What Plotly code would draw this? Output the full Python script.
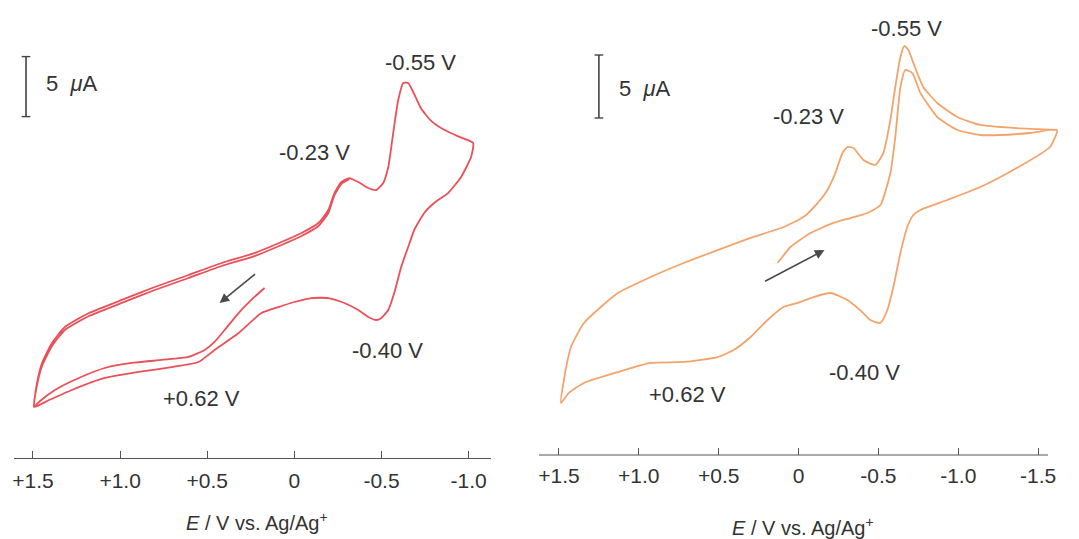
import plotly.graph_objects as go

# ---------------- LEFT PANEL (red) : potential E (V), current I (uA) ----------------
L_start_E = [0.171, 0.229, 0.320, 0.400, 0.458, 0.515, 0.607, 0.761, 0.933, 1.088, 1.237, 1.374, 1.466, 1.494]
L_start_I = [0.17, -0.58, -1.92, -3.33, -4.33, -5.00, -5.58, -5.83, -6.08, -6.50, -7.33, -8.33, -9.33, -9.75]

L_up1_E = [1.494, 1.477, 1.448, 1.391, 1.317, 1.179, 0.990, 0.801, 0.607, 0.418, 0.229, 0.074, -0.041,
           -0.138, -0.195, -0.230, -0.270, -0.316, -0.367, -0.424, -0.470, -0.510, -0.539, -0.567,
           -0.596, -0.625, -0.653, -0.682, -0.728, -0.785, -0.860, -0.940, -1.026]
L_up1_I = [-9.75, -7.75, -6.08, -4.42, -3.08, -1.92, -0.83, 0.25, 1.25, 2.25, 3.08, 4.00, 4.75,
           5.58, 6.67, 8.08, 9.00, 9.33, 9.00, 8.50, 8.33, 8.92, 10.25, 13.08,
           15.83, 17.25, 17.25, 16.50, 15.10, 14.10, 13.35, 12.80, 12.25]

L_ret_E = [-1.026, -1.014, -0.957, -0.882, -0.802, -0.745, -0.688, -0.653, -0.613, -0.573, -0.539,
           -0.499, -0.470, -0.424, -0.367, -0.287, -0.195, -0.098, 0.000, 0.091, 0.189, 0.320,
           0.458, 0.549, 0.704, 0.893, 1.088, 1.277, 1.408, 1.494]
L_ret_I = [12.25, 11.08, 9.42, 8.08, 7.25, 6.42, 5.00, 3.58, 1.92, -0.25, -1.67,
           -2.33, -2.50, -2.25, -1.67, -1.08, -0.67, -0.67, -1.00, -1.42, -1.92, -3.58,
           -5.00, -6.00, -6.42, -6.83, -7.33, -8.33, -9.17, -9.75]

L_up2_E = [1.494, 1.477, 1.448, 1.391, 1.317, 1.179, 0.990, 0.801, 0.607, 0.418, 0.229, 0.074, -0.041,
           -0.138, -0.195, -0.230, -0.270, -0.316]
L_up2_I = [-9.75, -7.95, -6.33, -4.67, -3.33, -2.17, -1.08, 0.00, 1.00, 2.00, 2.83, 3.75, 4.50,
           5.33, 6.42, 7.90, 8.85, 9.25]

L_ticks = [1.5, 1.0, 0.5, 0, -0.5, -1.0]
L_ticktext = ["+1.5", "+1.0", "+0.5", "0", "-0.5", "-1.0"]

# ---------------- RIGHT PANEL (orange) ----------------
R_start_E = [0.131, 0.050, -0.075, -0.219, -0.325, -0.431, -0.513, -0.575, -0.606, -0.638, -0.669,
             -0.713, -0.763, -0.869, -0.994, -1.138, -1.263, -1.450, -1.619]
R_start_I = [2.14, 3.41, 4.52, 5.32, 5.71, 6.11, 6.75, 9.29, 12.14, 16.11, 17.46,
             17.22, 15.64, 13.73, 12.70, 12.30, 12.30, 12.46, 12.70]

R_ret_E = [-1.619, -1.575, -1.344, -1.138, -0.931, -0.763, -0.719, -0.681, -0.638, -0.594, -0.556,
           -0.513, -0.450, -0.406, -0.306, -0.200, -0.094, 0.006, 0.094, 0.194, 0.300, 0.406,
           0.506, 0.719, 0.925, 1.131, 1.344, 1.438, 1.488]
R_ret_I = [12.70, 11.35, 9.52, 8.17, 7.14, 6.35, 5.95, 5.00, 2.94, 0.24, -1.59,
           -2.62, -2.38, -1.83, -0.79, -0.24, -0.56, -1.03, -1.35, -2.38, -3.73, -4.76,
           -5.32, -5.71, -5.79, -6.51, -7.38, -8.17, -8.97]

R_up_E = [1.488, 1.469, 1.425, 1.344, 1.238, 1.131, 0.925, 0.719, 0.506, 0.300, 0.094, -0.031,
          -0.119, -0.181, -0.231, -0.275, -0.306, -0.344, -0.406, -0.481, -0.531, -0.575, -0.606,
          -0.638, -0.663, -0.688, -0.719, -0.781, -0.869, -0.994, -1.138, -1.344, -1.619]
R_up_I = [-8.97, -7.14, -4.52, -2.62, -1.35, -0.24, 1.03, 2.14, 3.17, 4.13, 5.00, 5.79,
          6.90, 7.94, 9.29, 10.87, 11.35, 11.27, 10.32, 9.92, 10.87, 13.49, 16.11,
          18.49, 19.37, 19.05, 18.02, 16.11, 14.84, 13.73, 13.10, 12.86, 12.70]

R_ticks = [1.5, 1.0, 0.5, 0, -0.5, -1.0, -1.5]
R_ticktext = ["+1.5", "+1.0", "+0.5", "0", "-0.5", "-1.0", "-1.5"]

SCALE_UA = 5.0

# ---------------- styles ----------------
RED = "#EA5058"
ORANGE = "#F3A46C"
TXT = "#333333"
AX = "#555555"
FONT = "Liberation Sans, Arial, sans-serif"
PAGE_W, PAGE_H = 1079, 539
OFF = 8  # default page body margin in the exported html
W, H = PAGE_W - OFF, PAGE_H - OFF

fig = go.Figure()

left_E = L_start_E + L_up1_E[1:] + L_ret_E[1:] + L_up2_E[1:]
left_I = L_start_I + L_up1_I[1:] + L_ret_I[1:] + L_up2_I[1:]
fig.add_trace(go.Scatter(x=left_E, y=left_I, mode="lines", xaxis="x", yaxis="y",
                         line=dict(color=RED, width=1.8, shape="spline", smoothing=0.5),
                         hoverinfo="skip"))

right_E = R_start_E + R_ret_E[1:] + R_up_E[1:]
right_I = R_start_I + R_ret_I[1:] + R_up_I[1:]
fig.add_trace(go.Scatter(x=right_E, y=right_I, mode="lines", xaxis="x2", yaxis="y2",
                         line=dict(color=ORANGE, width=1.8, shape="spline", smoothing=0.5),
                         hoverinfo="skip"))


def px_x(p):
    return (p - OFF) / W


def px_y(p):
    return 1 - (p - OFF) / H


axis_common = dict(ticks="inside", ticklen=7, tickwidth=1.2, tickcolor=AX,
                   showgrid=False, zeroline=False,
                   tickfont=dict(family=FONT, size=21, color=TXT),
                   fixedrange=True)

fig.update_layout(
    width=W, height=H, margin=dict(l=0, r=0, t=0, b=0),
    paper_bgcolor="white", plot_bgcolor="white", showlegend=False,
    xaxis=dict(domain=[px_x(12), px_x(490)], range=[1.609, -1.129], anchor="y",
               tickvals=L_ticks, ticktext=L_ticktext, showline=True,
               linecolor=AX, linewidth=1.2, ticklabelstandoff=4, **axis_common),
    yaxis=dict(domain=[px_y(458), 1], range=[-14.0, 23.5], visible=False, fixedrange=True),
    xaxis2=dict(domain=[px_x(538), px_x(1070)], range=[1.625, -1.7], anchor="y2",
                tickvals=R_ticks, ticktext=R_ticktext, showline=False,
                ticklabelstandoff=6, **axis_common),
    yaxis2=dict(domain=[px_y(455), 1], range=[-13.095, 22.38], visible=False, fixedrange=True),
)

# right axis line (shorter than the subplot so the curve vertex is not clipped)
fig.add_shape(type="line", xref="x2", yref="paper", x0=1.625, x1=-1.5625,
              y0=px_y(455), y1=px_y(455), line=dict(color=AX, width=1.2))


# scale bars (5 uA)
def scale_bar(xr, yr, xe, y0, cap):
    fig.add_shape(type="line", xref=xr, yref=yr, x0=xe, x1=xe, y0=y0, y1=y0 + SCALE_UA,
                  line=dict(color="#444444", width=1.6))
    for yy in (y0, y0 + SCALE_UA):
        fig.add_shape(type="line", xref=xr, yref=yr, x0=xe - cap, x1=xe + cap, y0=yy, y1=yy,
                      line=dict(color="#444444", width=1.4))


scale_bar("x", "y", 1.54, 14.45, 0.025)
scale_bar("x2", "y2", 1.25, 13.65, 0.027)


def label(text, x, y, xr, yr, size=22):
    fig.add_annotation(text=text, x=x, y=y, xref=xr, yref=yr, showarrow=False,
                       font=dict(family=FONT, size=size, color=TXT),
                       xanchor="center", yanchor="middle")


# scale text
label("5 &nbsp;<i>μ</i>A", px_x(70), px_y(84), "paper", "paper")
label("5 &nbsp;<i>μ</i>A", px_x(644), px_y(88), "paper", "paper")

# peak labels (left)
label("-0.55 V", -0.722, 19.0, "x", "y")
label("-0.23 V", -0.115, 11.42, "x", "y")
label("-0.40 V", -0.533, -5.0, "x", "y")
label("+0.62 V", 0.532, -9.0, "x", "y")
# peak labels (right)
label("-0.55 V", -0.675, 20.79, "x2", "y2")
label("-0.23 V", -0.0625, 13.73, "x2", "y2")
label("-0.40 V", -0.4125, -6.51, "x2", "y2")
label("+0.62 V", 0.694, -8.33, "x2", "y2")

# axis titles
label("<i>E</i> / V vs. Ag/Ag<sup>+</sup>", px_x(255), px_y(521), "paper", "paper", size=20)
label("<i>E</i> / V vs. Ag/Ag<sup>+</sup>", px_x(802), px_y(526), "paper", "paper", size=20)

# scan-direction arrows
fig.add_annotation(x=0.429, y=-1.08, ax=0.217, ay=1.42, xref="x", yref="y", axref="x", ayref="y",
                   text="", showarrow=True, arrowhead=2, arrowsize=1.2, arrowwidth=1.6,
                   arrowcolor="#4a4a4a")
fig.add_annotation(x=-0.1625, y=3.17, ax=0.219, ay=0.63, xref="x2", yref="y2", axref="x2", ayref="y2",
                   text="", showarrow=True, arrowhead=2, arrowsize=1.2, arrowwidth=1.6,
                   arrowcolor="#4a4a4a")

fig.write_html("out.html")
